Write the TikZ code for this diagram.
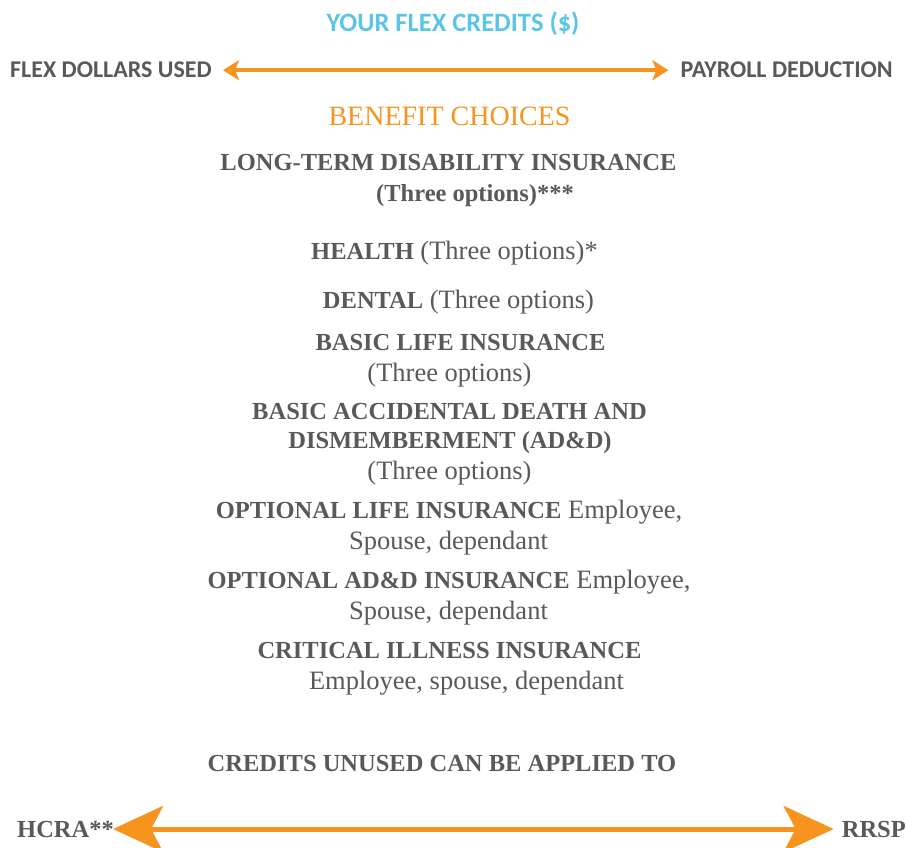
\documentclass[tikz,border=0pt]{standalone}
\usepackage{fontspec}
\setmainfont{Liberation Serif}
\newfontfamily\headfont{Carlito}
\usetikzlibrary{arrows.meta}
\usetikzlibrary{positioning}
\definecolor{flexgray}{HTML}{595959}
\definecolor{flexorange}{HTML}{F7941D}
\definecolor{flexblue}{HTML}{5BC5E6}
\newcommand{\bt}[1]{{\fontsize{24.5}{28}\selectfont\bfseries #1}}

\begin{document}
\begin{tikzpicture}[x=1pt,y=-1pt,>=Stealth,
    item/.style={anchor=base,inner sep=0pt,text=flexgray,font=\fontsize{26.5}{30}\selectfont},
    head/.style={anchor=base,inner sep=0pt,font=\headfont\bfseries\fontsize{24}{27}\selectfont}]
    \useasboundingbox (0,0) rectangle (906,848);

    \node[head,text=flexblue,font=\headfont\bfseries\fontsize{26.5}{30}\selectfont] (credits) at (453,32) {YOUR FLEX CREDITS (\$)};
    \node[head,text=flexgray,anchor=base west] (used) at (10,78) {FLEX DOLLARS USED};
    \node[head,text=flexgray,anchor=base east] (payroll) at (893,78) {PAYROLL DEDUCTION};
    \node[item,text=flexorange,font=\fontsize{28}{32}\selectfont] (choices) at (449.5,126) {BENEFIT CHOICES};

    \node[item] (ltd) at (448.5,171) {\bt{LONG-TERM DISABILITY INSURANCE}};
    \node[item] (ltd-opt) at (475,202) {\bt{(Three options)***}};
    \node[item] (health) at (454.5,259) {\bt{HEALTH} (Three options)*};
    \node[item] (dental) at (458.5,308) {\bt{DENTAL} (Three options)};
    \node[item] (life) at (460.5,350) {\bt{BASIC LIFE INSURANCE}};
    \node[item] (life-opt) at (449.5,381) {(Three options)};
    \node[item] (add) at (449.5,419) {\bt{BASIC ACCIDENTAL DEATH AND}};
    \node[item] (add-2) at (450,448) {\bt{DISMEMBERMENT (AD\&D)}};
    \node[item] (add-opt) at (449.5,479) {(Three options)};
    \node[item] (opt-life) at (449,518) {\bt{OPTIONAL LIFE INSURANCE} Employee,};
    \node[item] (opt-life-2) at (448.5,549) {Spouse, dependant};
    \node[item] (opt-add) at (449,588) {\bt{OPTIONAL AD\&D INSURANCE} Employee,};
    \node[item] (opt-add-2) at (448.5,619) {Spouse, dependant};
    \node[item] (critical) at (449.5,658) {\bt{CRITICAL ILLNESS INSURANCE}};
    \node[item] (critical-2) at (466.5,689) {Employee, spouse, dependant};

    \node[item] (unused) at (442,771) {\bt{CREDITS UNUSED CAN BE APPLIED TO}};
    \node[item,anchor=base west] (hcra) at (17,837) {\bt{HCRA**}};
    \node[item,anchor=base east] (rrsp) at (906,837) {\bt{RRSP}};

    \draw[<->,flexorange,line width=4pt,shorten <=11pt,shorten >=12pt,
        arrows={Stealth[length=16pt,width=20pt,inset=4pt]-Stealth[length=16pt,width=20pt,inset=4pt]}]
        (used.east) -- (payroll.west);
    \draw[flexorange,line width=5pt,shorten <=-1pt,shorten >=8pt,
        arrows={Stealth[length=50pt,width=46pt,inset=12pt]-Stealth[length=50pt,width=46pt,inset=12pt]}]
        (hcra.east) -- (rrsp.west);
\end{tikzpicture}
\end{document}
